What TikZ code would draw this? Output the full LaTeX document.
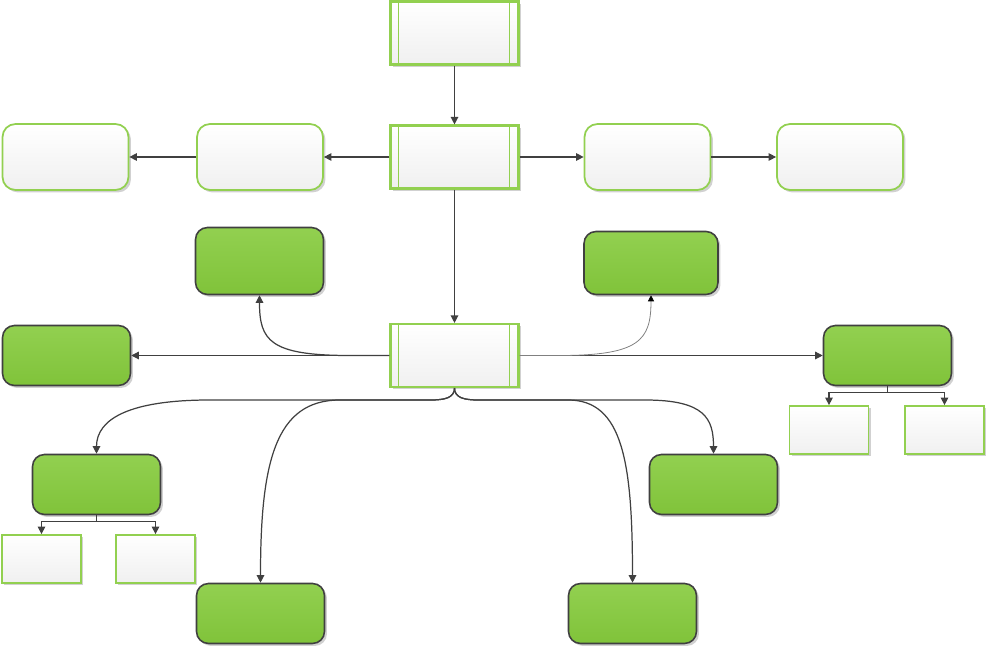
\documentclass[tikz,border=0pt]{standalone}
\usepackage{tikz}
\usetikzlibrary{arrows.meta,positioning,calc,shadows}
\definecolor{leaf}{RGB}{146,208,80}
\definecolor{leafdark}{RGB}{128,195,58}
\definecolor{edge}{RGB}{64,64,64}
\tikzset{
  shade/.style={drop shadow={shadow xshift=1.4pt, shadow yshift=-1.4pt, fill=black, opacity=0.18}},
  hub/.style={draw=leaf, line width=1.2pt, top color=white, bottom color=gray!12, minimum width=2.56cm, minimum height=1.26cm, inner sep=0pt, shade},
  soft/.style={draw=leaf, line width=1pt, rounded corners=0.26cm, top color=white, bottom color=gray!12, minimum width=2.52cm, minimum height=1.32cm, inner sep=0pt, shade},
  leafbox/.style={draw=edge, line width=0.9pt, rounded corners=0.24cm, top color=leaf, bottom color=leafdark, minimum width=2.56cm, minimum height=1.2cm, inner sep=0pt, shade},
  sub/.style={draw=leaf, line width=1pt, top color=white, bottom color=gray!12, minimum width=1.58cm, minimum height=0.96cm, inner sep=0pt, shade},
  link/.style={->, draw=edge, line width=0.7pt},
  hubline/.style={draw=leaf, line width=0.7pt}
}
\begin{document}
\begin{tikzpicture}[x=0.02cm, y=-0.02cm, >={Triangle[length=1.5mm,width=1.5mm]}]
  \useasboundingbox (0,0) rectangle (988,651);
  % Hubs
  \node[hub] (top) at (454.5,33) {};
  \node[hub] (mid) at (454.5,157) {};
  \node[hub] (core) at (454.5,355.5) {};
  \foreach \n in {top,mid,core} {
    \draw[hubline] ($(\n.north west)+(9,0)$) -- ($(\n.south west)+(9,0)$);
    \draw[hubline] ($(\n.north east)+(-10,0)$) -- ($(\n.south east)+(-10,0)$);
  }
  % Upper row
  \node[soft] (left1) at (260,157) {};
  \node[soft] (left2) at (65.5,157) {};
  \node[soft] (right1) at (647.5,157) {};
  \node[soft] (right2) at (840,157) {};
  % Green boxes
  \node[leafbox, minimum height=1.34cm] (upL) at (259.5,261) {};
  \node[leafbox, minimum width=2.68cm, minimum height=1.26cm] (upR) at (651,263) {};
  \node[leafbox] (sideL) at (66.5,355.5) {};
  \node[leafbox] (sideR) at (887.5,355.5) {};
  \node[leafbox] (lowL) at (96.5,484.5) {};
  \node[leafbox] (lowR) at (713.5,484.5) {};
  \node[leafbox] (baseL) at (260.5,613.5) {};
  \node[leafbox] (baseR) at (632.5,613.5) {};
  % Sub boxes
  \node[sub] (subL1) at (41.5,559) {};
  \node[sub] (subL2) at (155.5,559) {};
  \node[sub] (subR1) at (829,430) {};
  \node[sub] (subR2) at (944.5,430) {};
  % Straight links
  \draw[link] (top) -- (mid);
  \draw[link] (mid) -- (core);
  \draw[link] (mid) -- (left1);
  \draw[link] (left1) -- (left2);
  \draw[link] (mid) -- (right1);
  \draw[link] (right1) -- (right2);
  \draw[link] (core) -- (sideL);
  \draw[link] (core) -- (sideR);
  % Curves up
  \draw[link] (core.west) -- ++(-40,0) .. controls +(-80,0) and +(0,45) .. (upL.south);
  \draw[-{Triangle[length=1.2mm,width=1.2mm,black]}, draw=gray, line width=0.45pt] (core.east) -- ++(40,0) .. controls +(80,0) and +(0,45) .. (upR.south);
  % Brace out of core
  \coordinate (jL) at ($(core.south)+(-25,12)$);
  \coordinate (jR) at ($(core.south)+(25,12)$);
  \draw[link] (core.south) .. controls +(0,10) and +(15,0) .. (jL) -- (210,400) .. controls +(-80,0) and +(0,-35) .. (lowL.north);
  \draw[link] (core.south) .. controls +(0,10) and +(15,0) .. (jL) -- (340,400) .. controls +(-65,0) and +(0,-120) .. (baseL.north);
  \draw[link] (core.south) .. controls +(0,10) and +(-15,0) .. (jR) -- (645,400) .. controls +(60,0) and +(0,-35) .. (lowR.north);
  \draw[link] (core.south) .. controls +(0,10) and +(-15,0) .. (jR) -- (568,400) .. controls +(55,0) and +(0,-120) .. (baseR.north);
  % Forks
  \coordinate (forkL) at ($(lowL.south)+(0,6)$);
  \draw[draw=edge, line width=0.7pt] (lowL.south) -- (forkL);
  \draw[link] (forkL) -| (subL1.north);
  \draw[link] (forkL) -| (subL2.north);
  \coordinate (forkR) at ($(sideR.south)+(0,6)$);
  \draw[draw=edge, line width=0.7pt] (sideR.south) -- (forkR);
  \draw[link] (forkR) -| (subR1.north);
  \draw[link] (forkR) -| (subR2.north);
\end{tikzpicture}
\end{document}
